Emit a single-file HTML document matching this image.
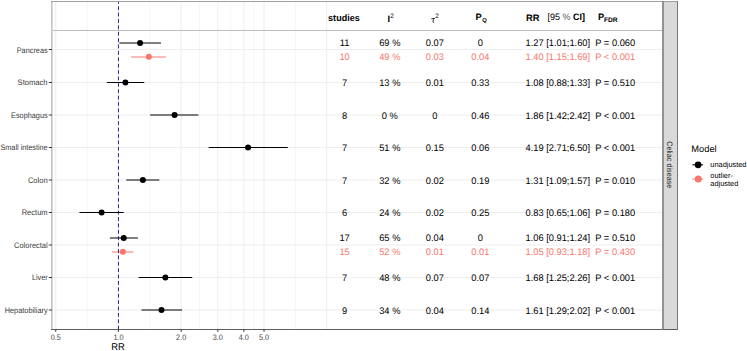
<!DOCTYPE html><html><head><meta charset="utf-8"><style>html,body{margin:0;padding:0;background:#fff;width:747px;height:351px;overflow:hidden}svg{display:block}text{font-family:"Liberation Sans",sans-serif;text-rendering:geometricPrecision}</style></head><body>
<svg width="747" height="351" viewBox="0 0 747 351">
<rect width="747" height="351" fill="#fff"/>
<line x1="87.10" y1="1.0" x2="87.10" y2="329.5" stroke="#eeeeee" stroke-width="0.55"/>
<line x1="149.80" y1="1.0" x2="149.80" y2="329.5" stroke="#eeeeee" stroke-width="0.55"/>
<line x1="199.49" y1="1.0" x2="199.49" y2="329.5" stroke="#eeeeee" stroke-width="0.55"/>
<line x1="230.84" y1="1.0" x2="230.84" y2="329.5" stroke="#eeeeee" stroke-width="0.55"/>
<line x1="253.94" y1="1.0" x2="253.94" y2="329.5" stroke="#eeeeee" stroke-width="0.55"/>
<line x1="295.38" y1="1.0" x2="295.38" y2="329.5" stroke="#eeeeee" stroke-width="0.55"/>
<line x1="55.75" y1="1.0" x2="55.75" y2="329.5" stroke="#eeeeee" stroke-width="1.07"/>
<line x1="118.45" y1="1.0" x2="118.45" y2="329.5" stroke="#eeeeee" stroke-width="1.07"/>
<line x1="181.15" y1="1.0" x2="181.15" y2="329.5" stroke="#eeeeee" stroke-width="1.07"/>
<line x1="217.83" y1="1.0" x2="217.83" y2="329.5" stroke="#eeeeee" stroke-width="1.07"/>
<line x1="243.85" y1="1.0" x2="243.85" y2="329.5" stroke="#eeeeee" stroke-width="1.07"/>
<line x1="264.03" y1="1.0" x2="264.03" y2="329.5" stroke="#eeeeee" stroke-width="1.07"/>
<line x1="326.73" y1="1.0" x2="326.73" y2="329.5" stroke="#eeeeee" stroke-width="1.07"/>
<line x1="51.0" y1="49.50" x2="662.5" y2="49.50" stroke="#eeeeee" stroke-width="1.07"/>
<line x1="51.0" y1="82.50" x2="662.5" y2="82.50" stroke="#eeeeee" stroke-width="1.07"/>
<line x1="51.0" y1="115.00" x2="662.5" y2="115.00" stroke="#eeeeee" stroke-width="1.07"/>
<line x1="51.0" y1="147.50" x2="662.5" y2="147.50" stroke="#eeeeee" stroke-width="1.07"/>
<line x1="51.0" y1="180.00" x2="662.5" y2="180.00" stroke="#eeeeee" stroke-width="1.07"/>
<line x1="51.0" y1="212.50" x2="662.5" y2="212.50" stroke="#eeeeee" stroke-width="1.07"/>
<line x1="51.0" y1="245.00" x2="662.5" y2="245.00" stroke="#eeeeee" stroke-width="1.07"/>
<line x1="51.0" y1="277.50" x2="662.5" y2="277.50" stroke="#eeeeee" stroke-width="1.07"/>
<line x1="51.0" y1="310.00" x2="662.5" y2="310.00" stroke="#eeeeee" stroke-width="1.07"/>
<line x1="51.0" y1="30.5" x2="662.5" y2="30.5" stroke="#bcbcbc" stroke-width="1"/>
<line x1="119.35" y1="43.00" x2="160.97" y2="43.00" stroke="#000" stroke-width="1.0"/>
<circle cx="140.07" cy="42.90" r="3.0" fill="#000"/>
<line x1="131.09" y1="57.00" x2="165.92" y2="57.00" stroke="#F8766D" stroke-width="1.0"/>
<circle cx="148.89" cy="56.70" r="3.0" fill="#F8766D"/>
<line x1="106.89" y1="82.50" x2="144.25" y2="82.50" stroke="#000" stroke-width="1.0"/>
<circle cx="125.41" cy="82.50" r="3.0" fill="#000"/>
<line x1="150.17" y1="115.00" x2="198.39" y2="115.00" stroke="#000" stroke-width="1.0"/>
<circle cx="174.59" cy="115.00" r="3.0" fill="#000"/>
<line x1="208.63" y1="147.50" x2="287.77" y2="147.50" stroke="#000" stroke-width="1.0"/>
<circle cx="248.05" cy="147.50" r="3.0" fill="#000"/>
<line x1="126.25" y1="180.00" x2="159.25" y2="180.00" stroke="#000" stroke-width="1.0"/>
<circle cx="142.88" cy="180.00" r="3.0" fill="#000"/>
<line x1="79.48" y1="212.50" x2="123.72" y2="212.50" stroke="#000" stroke-width="1.0"/>
<circle cx="101.60" cy="212.50" r="3.0" fill="#000"/>
<line x1="109.92" y1="238.00" x2="137.91" y2="238.00" stroke="#000" stroke-width="1.0"/>
<circle cx="123.72" cy="238.00" r="3.0" fill="#000"/>
<line x1="111.89" y1="252.00" x2="133.42" y2="252.00" stroke="#F8766D" stroke-width="1.0"/>
<circle cx="122.86" cy="251.85" r="3.0" fill="#F8766D"/>
<line x1="138.63" y1="277.50" x2="192.21" y2="277.50" stroke="#000" stroke-width="1.0"/>
<circle cx="165.38" cy="277.50" r="3.0" fill="#000"/>
<line x1="141.48" y1="310.00" x2="182.05" y2="310.00" stroke="#000" stroke-width="1.0"/>
<circle cx="161.53" cy="310.00" r="3.0" fill="#000"/>
<line x1="118.45" y1="1.0" x2="118.45" y2="329.5" stroke="#00008B" stroke-width="0.85" stroke-dasharray="3.8 2.59" stroke-dashoffset="1.14"/>
<text transform="translate(344.60,46.40) scale(0.979,1)" font-size="9.5" fill="#000" text-anchor="middle">11</text>
<text transform="translate(389.80,46.40) scale(0.979,1)" font-size="9.5" fill="#000" text-anchor="middle">69 %</text>
<text transform="translate(434.80,46.40) scale(0.979,1)" font-size="9.5" fill="#000" text-anchor="middle">0.07</text>
<text transform="translate(480.30,46.40) scale(0.979,1)" font-size="9.5" fill="#000" text-anchor="middle">0</text>
<text transform="translate(557.80,46.40) scale(0.979,1)" font-size="9.5" fill="#000" text-anchor="middle">1.27 [1.01;1.60]</text>
<text transform="translate(615.20,46.40) scale(0.979,1)" font-size="9.5" fill="#000" text-anchor="middle">P = 0.060</text>
<text transform="translate(344.60,60.15) scale(0.979,1)" font-size="9.5" fill="#F8766D" text-anchor="middle">10</text>
<text transform="translate(389.80,60.15) scale(0.979,1)" font-size="9.5" fill="#F8766D" text-anchor="middle">49 %</text>
<text transform="translate(434.80,60.15) scale(0.979,1)" font-size="9.5" fill="#F8766D" text-anchor="middle">0.03</text>
<text transform="translate(480.30,60.15) scale(0.979,1)" font-size="9.5" fill="#F8766D" text-anchor="middle">0.04</text>
<text transform="translate(557.80,60.15) scale(0.979,1)" font-size="9.5" fill="#F8766D" text-anchor="middle">1.40 [1.15;1.69]</text>
<text transform="translate(615.20,60.15) scale(0.979,1)" font-size="9.5" fill="#F8766D" text-anchor="middle">P &lt; 0.001</text>
<text transform="translate(344.60,86.10) scale(0.979,1)" font-size="9.5" fill="#000" text-anchor="middle">7</text>
<text transform="translate(389.80,86.10) scale(0.979,1)" font-size="9.5" fill="#000" text-anchor="middle">13 %</text>
<text transform="translate(434.80,86.10) scale(0.979,1)" font-size="9.5" fill="#000" text-anchor="middle">0.01</text>
<text transform="translate(480.30,86.10) scale(0.979,1)" font-size="9.5" fill="#000" text-anchor="middle">0.33</text>
<text transform="translate(557.80,86.10) scale(0.979,1)" font-size="9.5" fill="#000" text-anchor="middle">1.08 [0.88;1.33]</text>
<text transform="translate(615.20,86.10) scale(0.979,1)" font-size="9.5" fill="#000" text-anchor="middle">P = 0.510</text>
<text transform="translate(344.60,118.60) scale(0.979,1)" font-size="9.5" fill="#000" text-anchor="middle">8</text>
<text transform="translate(389.80,118.60) scale(0.979,1)" font-size="9.5" fill="#000" text-anchor="middle">0 %</text>
<text transform="translate(434.80,118.60) scale(0.979,1)" font-size="9.5" fill="#000" text-anchor="middle">0</text>
<text transform="translate(480.30,118.60) scale(0.979,1)" font-size="9.5" fill="#000" text-anchor="middle">0.46</text>
<text transform="translate(557.80,118.60) scale(0.979,1)" font-size="9.5" fill="#000" text-anchor="middle">1.86 [1.42;2.42]</text>
<text transform="translate(615.20,118.60) scale(0.979,1)" font-size="9.5" fill="#000" text-anchor="middle">P &lt; 0.001</text>
<text transform="translate(344.60,151.10) scale(0.979,1)" font-size="9.5" fill="#000" text-anchor="middle">7</text>
<text transform="translate(389.80,151.10) scale(0.979,1)" font-size="9.5" fill="#000" text-anchor="middle">51 %</text>
<text transform="translate(434.80,151.10) scale(0.979,1)" font-size="9.5" fill="#000" text-anchor="middle">0.15</text>
<text transform="translate(480.30,151.10) scale(0.979,1)" font-size="9.5" fill="#000" text-anchor="middle">0.06</text>
<text transform="translate(557.80,151.10) scale(0.979,1)" font-size="9.5" fill="#000" text-anchor="middle">4.19 [2.71;6.50]</text>
<text transform="translate(615.20,151.10) scale(0.979,1)" font-size="9.5" fill="#000" text-anchor="middle">P &lt; 0.001</text>
<text transform="translate(344.60,183.60) scale(0.979,1)" font-size="9.5" fill="#000" text-anchor="middle">7</text>
<text transform="translate(389.80,183.60) scale(0.979,1)" font-size="9.5" fill="#000" text-anchor="middle">32 %</text>
<text transform="translate(434.80,183.60) scale(0.979,1)" font-size="9.5" fill="#000" text-anchor="middle">0.02</text>
<text transform="translate(480.30,183.60) scale(0.979,1)" font-size="9.5" fill="#000" text-anchor="middle">0.19</text>
<text transform="translate(557.80,183.60) scale(0.979,1)" font-size="9.5" fill="#000" text-anchor="middle">1.31 [1.09;1.57]</text>
<text transform="translate(615.20,183.60) scale(0.979,1)" font-size="9.5" fill="#000" text-anchor="middle">P = 0.010</text>
<text transform="translate(344.60,216.10) scale(0.979,1)" font-size="9.5" fill="#000" text-anchor="middle">6</text>
<text transform="translate(389.80,216.10) scale(0.979,1)" font-size="9.5" fill="#000" text-anchor="middle">24 %</text>
<text transform="translate(434.80,216.10) scale(0.979,1)" font-size="9.5" fill="#000" text-anchor="middle">0.02</text>
<text transform="translate(480.30,216.10) scale(0.979,1)" font-size="9.5" fill="#000" text-anchor="middle">0.25</text>
<text transform="translate(557.80,216.10) scale(0.979,1)" font-size="9.5" fill="#000" text-anchor="middle">0.83 [0.65;1.06]</text>
<text transform="translate(615.20,216.10) scale(0.979,1)" font-size="9.5" fill="#000" text-anchor="middle">P = 0.180</text>
<text transform="translate(344.60,241.40) scale(0.979,1)" font-size="9.5" fill="#000" text-anchor="middle">17</text>
<text transform="translate(389.80,241.40) scale(0.979,1)" font-size="9.5" fill="#000" text-anchor="middle">65 %</text>
<text transform="translate(434.80,241.40) scale(0.979,1)" font-size="9.5" fill="#000" text-anchor="middle">0.04</text>
<text transform="translate(480.30,241.40) scale(0.979,1)" font-size="9.5" fill="#000" text-anchor="middle">0</text>
<text transform="translate(557.80,241.40) scale(0.979,1)" font-size="9.5" fill="#000" text-anchor="middle">1.06 [0.91;1.24]</text>
<text transform="translate(615.20,241.40) scale(0.979,1)" font-size="9.5" fill="#000" text-anchor="middle">P = 0.510</text>
<text transform="translate(344.60,255.15) scale(0.979,1)" font-size="9.5" fill="#F8766D" text-anchor="middle">15</text>
<text transform="translate(389.80,255.15) scale(0.979,1)" font-size="9.5" fill="#F8766D" text-anchor="middle">52 %</text>
<text transform="translate(434.80,255.15) scale(0.979,1)" font-size="9.5" fill="#F8766D" text-anchor="middle">0.01</text>
<text transform="translate(480.30,255.15) scale(0.979,1)" font-size="9.5" fill="#F8766D" text-anchor="middle">0.01</text>
<text transform="translate(557.80,255.15) scale(0.979,1)" font-size="9.5" fill="#F8766D" text-anchor="middle">1.05 [0.93;1.18]</text>
<text transform="translate(615.20,255.15) scale(0.979,1)" font-size="9.5" fill="#F8766D" text-anchor="middle">P = 0.430</text>
<text transform="translate(344.60,281.10) scale(0.979,1)" font-size="9.5" fill="#000" text-anchor="middle">7</text>
<text transform="translate(389.80,281.10) scale(0.979,1)" font-size="9.5" fill="#000" text-anchor="middle">48 %</text>
<text transform="translate(434.80,281.10) scale(0.979,1)" font-size="9.5" fill="#000" text-anchor="middle">0.07</text>
<text transform="translate(480.30,281.10) scale(0.979,1)" font-size="9.5" fill="#000" text-anchor="middle">0.07</text>
<text transform="translate(557.80,281.10) scale(0.979,1)" font-size="9.5" fill="#000" text-anchor="middle">1.68 [1.25;2.26]</text>
<text transform="translate(615.20,281.10) scale(0.979,1)" font-size="9.5" fill="#000" text-anchor="middle">P &lt; 0.001</text>
<text transform="translate(344.60,313.60) scale(0.979,1)" font-size="9.5" fill="#000" text-anchor="middle">9</text>
<text transform="translate(389.80,313.60) scale(0.979,1)" font-size="9.5" fill="#000" text-anchor="middle">34 %</text>
<text transform="translate(434.80,313.60) scale(0.979,1)" font-size="9.5" fill="#000" text-anchor="middle">0.04</text>
<text transform="translate(480.30,313.60) scale(0.979,1)" font-size="9.5" fill="#000" text-anchor="middle">0.14</text>
<text transform="translate(557.80,313.60) scale(0.979,1)" font-size="9.5" fill="#000" text-anchor="middle">1.61 [1.29;2.02]</text>
<text transform="translate(615.20,313.60) scale(0.979,1)" font-size="9.5" fill="#000" text-anchor="middle">P &lt; 0.001</text>
<text transform="translate(343.90,20.90) scale(0.97,1)" font-size="9.3" fill="#000" text-anchor="middle" font-weight="bold">studies</text>
<text x="387.60" y="22.00" font-size="9.3" fill="#000" font-weight="bold">I</text>
<text x="390.20" y="17.70" font-size="6.4" fill="#000">2</text>
<path d="M431.2 19.0 Q431.6 18.4 432.4 18.45 H435.0 M433.3 18.5 L433.1 21.9 Q433.1 22.7 434.1 22.5" fill="none" stroke="#111" stroke-width="0.85"/>
<text x="435.30" y="17.70" font-size="6.4" fill="#000">2</text>
<text x="475.60" y="20.10" font-size="9.3" fill="#000" font-weight="bold">P</text>
<text x="482.20" y="21.50" font-size="5.8" fill="#000" font-weight="bold">Q</text>
<text x="526.00" y="20.80" font-size="9.3" fill="#000" font-weight="bold">RR</text>
<text transform="translate(547.6,19.7) scale(0.966,1)" font-size="9.3">[95 <tspan fill="#606060">%</tspan> <tspan font-weight="bold">CI]</tspan></text>
<text x="598.00" y="20.10" font-size="9.3" fill="#000" font-weight="bold">P</text>
<text x="603.90" y="21.60" font-size="6.6" fill="#000" font-weight="bold">FDR</text>
<rect x="663" y="1.5" width="14.5" height="327.5" fill="#d9d9d9"/>
<line x1="51.5" y1="1.0" x2="51.5" y2="329.5" stroke="#c2c2c2" stroke-width="1"/>
<line x1="52.5" y1="1.0" x2="52.5" y2="329.5" stroke="#dadada" stroke-width="1"/>
<line x1="51.0" y1="1.5" x2="678" y2="1.5" stroke="#a0a0a0" stroke-width="1"/>
<line x1="51.0" y1="329.5" x2="678" y2="329.5" stroke="#5e5e5e" stroke-width="1.0"/>
<line x1="663" y1="1.0" x2="663" y2="329.5" stroke="#8a8a8a" stroke-width="1.8"/>
<line x1="677.5" y1="1.0" x2="677.5" y2="330.0" stroke="#767676" stroke-width="1"/>
<line x1="48.8" y1="49.50" x2="52" y2="49.50" stroke="#333" stroke-width="1.0"/>
<text transform="translate(47.60,52.60) scale(0.914,1)" font-size="8.0" fill="#3a3a3a" text-anchor="end">Pancreas</text>
<line x1="48.8" y1="82.50" x2="52" y2="82.50" stroke="#333" stroke-width="1.0"/>
<text transform="translate(47.60,85.10) scale(0.95,1)" font-size="8.0" fill="#3a3a3a" text-anchor="end">Stomach</text>
<line x1="48.8" y1="115.00" x2="52" y2="115.00" stroke="#333" stroke-width="1.0"/>
<text transform="translate(47.60,117.60) scale(0.912,1)" font-size="8.0" fill="#3a3a3a" text-anchor="end">Esophagus</text>
<line x1="48.8" y1="147.50" x2="52" y2="147.50" stroke="#333" stroke-width="1.0"/>
<text transform="translate(47.60,150.10) scale(0.905,1)" font-size="8.0" fill="#3a3a3a" text-anchor="end">Small intestine</text>
<line x1="48.8" y1="180.00" x2="52" y2="180.00" stroke="#333" stroke-width="1.0"/>
<text transform="translate(47.60,182.60) scale(0.943,1)" font-size="8.0" fill="#3a3a3a" text-anchor="end">Colon</text>
<line x1="48.8" y1="212.50" x2="52" y2="212.50" stroke="#333" stroke-width="1.0"/>
<text transform="translate(47.60,215.10) scale(0.942,1)" font-size="8.0" fill="#3a3a3a" text-anchor="end">Rectum</text>
<line x1="48.8" y1="245.00" x2="52" y2="245.00" stroke="#333" stroke-width="1.0"/>
<text transform="translate(47.60,247.60) scale(0.93,1)" font-size="8.0" fill="#3a3a3a" text-anchor="end">Colorectal</text>
<line x1="48.8" y1="277.50" x2="52" y2="277.50" stroke="#333" stroke-width="1.0"/>
<text transform="translate(47.60,280.10) scale(0.905,1)" font-size="8.0" fill="#3a3a3a" text-anchor="end">Liver</text>
<line x1="48.8" y1="310.00" x2="52" y2="310.00" stroke="#333" stroke-width="1.0"/>
<text transform="translate(47.60,312.60) scale(0.918,1)" font-size="8.0" fill="#3a3a3a" text-anchor="end">Hepatobiliary</text>
<line x1="55.75" y1="329.5" x2="55.75" y2="331.8" stroke="#333" stroke-width="1.07"/>
<text transform="translate(55.75,339.60) scale(0.905,1)" font-size="8.0" fill="#444444" text-anchor="middle">0.5</text>
<line x1="118.45" y1="329.5" x2="118.45" y2="331.8" stroke="#333" stroke-width="1.07"/>
<text transform="translate(118.45,339.60) scale(0.905,1)" font-size="8.0" fill="#444444" text-anchor="middle">1.0</text>
<line x1="181.15" y1="329.5" x2="181.15" y2="331.8" stroke="#333" stroke-width="1.07"/>
<text transform="translate(181.15,339.60) scale(0.905,1)" font-size="8.0" fill="#444444" text-anchor="middle">2.0</text>
<line x1="217.83" y1="329.5" x2="217.83" y2="331.8" stroke="#333" stroke-width="1.07"/>
<text transform="translate(217.83,339.60) scale(0.905,1)" font-size="8.0" fill="#444444" text-anchor="middle">3.0</text>
<line x1="243.85" y1="329.5" x2="243.85" y2="331.8" stroke="#333" stroke-width="1.07"/>
<text transform="translate(243.85,339.60) scale(0.905,1)" font-size="8.0" fill="#444444" text-anchor="middle">4.0</text>
<line x1="264.03" y1="329.5" x2="264.03" y2="331.8" stroke="#333" stroke-width="1.07"/>
<text transform="translate(264.03,339.60) scale(0.905,1)" font-size="8.0" fill="#444444" text-anchor="middle">5.0</text>
<text transform="translate(118.00,349.60) scale(0.95,1)" font-size="9.8" fill="#000" text-anchor="middle">RR</text>
<text transform="translate(667.4,164.8) rotate(90) scale(0.93,1)" font-size="7.8" fill="#1a1a1a" text-anchor="middle">Celiac disease</text>
<text x="691.30" y="152.10" font-size="9.3" fill="#000">Model</text>
<line x1="692.3" y1="164.8" x2="703.1" y2="164.8" stroke="#000" stroke-width="1.0"/>
<circle cx="698.1" cy="164.8" r="3.4" fill="#000"/>
<text x="710.30" y="167.00" font-size="7.4" fill="#000">unadjusted</text>
<line x1="692.3" y1="179.1" x2="703.1" y2="179.1" stroke="#F8766D" stroke-width="1.0"/>
<circle cx="698.3" cy="179.1" r="3.5" fill="#F8766D"/>
<text x="710.30" y="178.00" font-size="7.4" fill="#000">outlier-</text>
<text x="710.30" y="185.90" font-size="7.4" fill="#000">adjusted</text>
</svg></body></html>
